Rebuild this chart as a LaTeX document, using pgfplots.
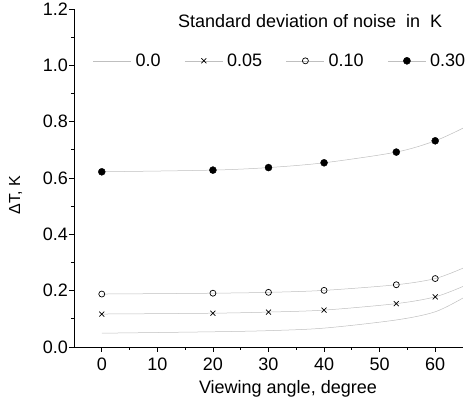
\documentclass[border=0pt]{standalone}
\usepackage{pgfplots}
\pgfplotsset{compat=1.18}
\usepackage{fontspec}
\setmainfont{Liberation Sans}
\begin{document}
\begin{tikzpicture}[font=\fontsize{18}{21}\selectfont]
\begin{axis}[
  at={(0,0)}, anchor=south west,
  scale only axis, width=389pt, height=338pt,
  xmin=-5, xmax=65, ymin=0, ymax=1.2,
  axis x line=bottom, axis y line=left,
  axis line style={-, line width=0.9pt, black},
  xtick={0,10,20,30,40,50,60},
  ytick={0,0.2,0.4,0.6,0.8,1.0,1.2},
  minor x tick num=1, minor y tick num=1,
  tick align=outside, major tick length=5pt, minor tick length=3pt,
  tick style={black, line width=0.8pt},
  /pgf/number format/assume math mode=true,
  yticklabel style={/pgf/number format/fixed, /pgf/number format/fixed zerofill, /pgf/number format/precision=1, inner sep=1pt},
  xticklabel style={inner sep=6pt},
  xlabel={Viewing angle, degree},
  xlabel style={at={(axis description cs:0.55,-0.124)}, anchor=center},
  ylabel={ΔT, K},
  ylabel style={at={(axis description cs:-0.15,0.45)}, anchor=center, font=\fontsize{16}{19}\selectfont},
  legend columns=4,
  legend style={at={(axis cs:-1.6,1.016)}, anchor=west, draw=none, fill=none, inner sep=0pt,
    nodes={inner sep=2pt},
    /tikz/every odd column/.append style={column sep=2pt},
    /tikz/every even column/.append style={column sep=22pt}},
  legend image code/.code={\draw[mark repeat=2,mark phase=2,#1] plot coordinates {(0pt,0pt) (19pt,0pt) (38pt,0pt)};},
  line/.style={gray!50, line width=0.5pt, smooth, no marks, forget plot},
]
% curves
\addplot[line] coordinates {
 (0,0.049) (20,0.054) (30,0.058) (40,0.067) (53,0.096) (60,0.125) (65,0.174)};
\addplot[line] coordinates {
 (0,0.117) (20,0.120) (30,0.124) (40,0.131) (53,0.154) (60,0.178) (65,0.215)};
\addplot[line] coordinates {
 (0,0.188) (20,0.191) (30,0.194) (40,0.201) (53,0.221) (60,0.243) (65,0.280)};
\addplot[line] coordinates {
 (0,0.622) (20,0.628) (30,0.637) (40,0.654) (53,0.692) (60,0.732) (65,0.777)};
% markers
\addplot[only marks, forget plot, mark=x, mark size=3.5pt, mark options={black, line width=0.7pt}] coordinates {
 (0,0.117) (20,0.120) (30,0.124) (40,0.131) (53,0.154) (60,0.178)};
\addplot[only marks, forget plot, mark=o, mark size=3pt, mark options={black, line width=0.7pt, fill=white}] coordinates {
 (0,0.188) (20,0.191) (30,0.194) (40,0.201) (53,0.221) (60,0.243)};
\addplot[only marks, forget plot, mark=*, mark size=3.5pt, mark options={black}] coordinates {
 (0,0.622) (20,0.628) (30,0.637) (40,0.654) (53,0.692) (60,0.732)};
% legend
\addlegendimage{gray!50, line width=0.5pt, no marks}
\addlegendentry{0.0}
\addlegendimage{gray!50, line width=0.5pt, mark=x, mark size=3.5pt, mark options={black, line width=0.7pt}}
\addlegendentry{0.05}
\addlegendimage{gray!50, line width=0.5pt, mark=o, mark size=3pt, mark options={black, line width=0.7pt, fill=white}}
\addlegendentry{0.10}
\addlegendimage{gray!50, line width=0.5pt, mark=*, mark size=3.5pt, mark options={black}}
\addlegendentry{0.30}
\node at (axis cs:37.5,1.157) {Standard deviation of noise\ \ in\ \ K};
\end{axis}
\pgfresetboundingbox
\path[use as bounding box] (-74pt,-54pt) rectangle (393pt,347pt);
\end{tikzpicture}
\end{document}
